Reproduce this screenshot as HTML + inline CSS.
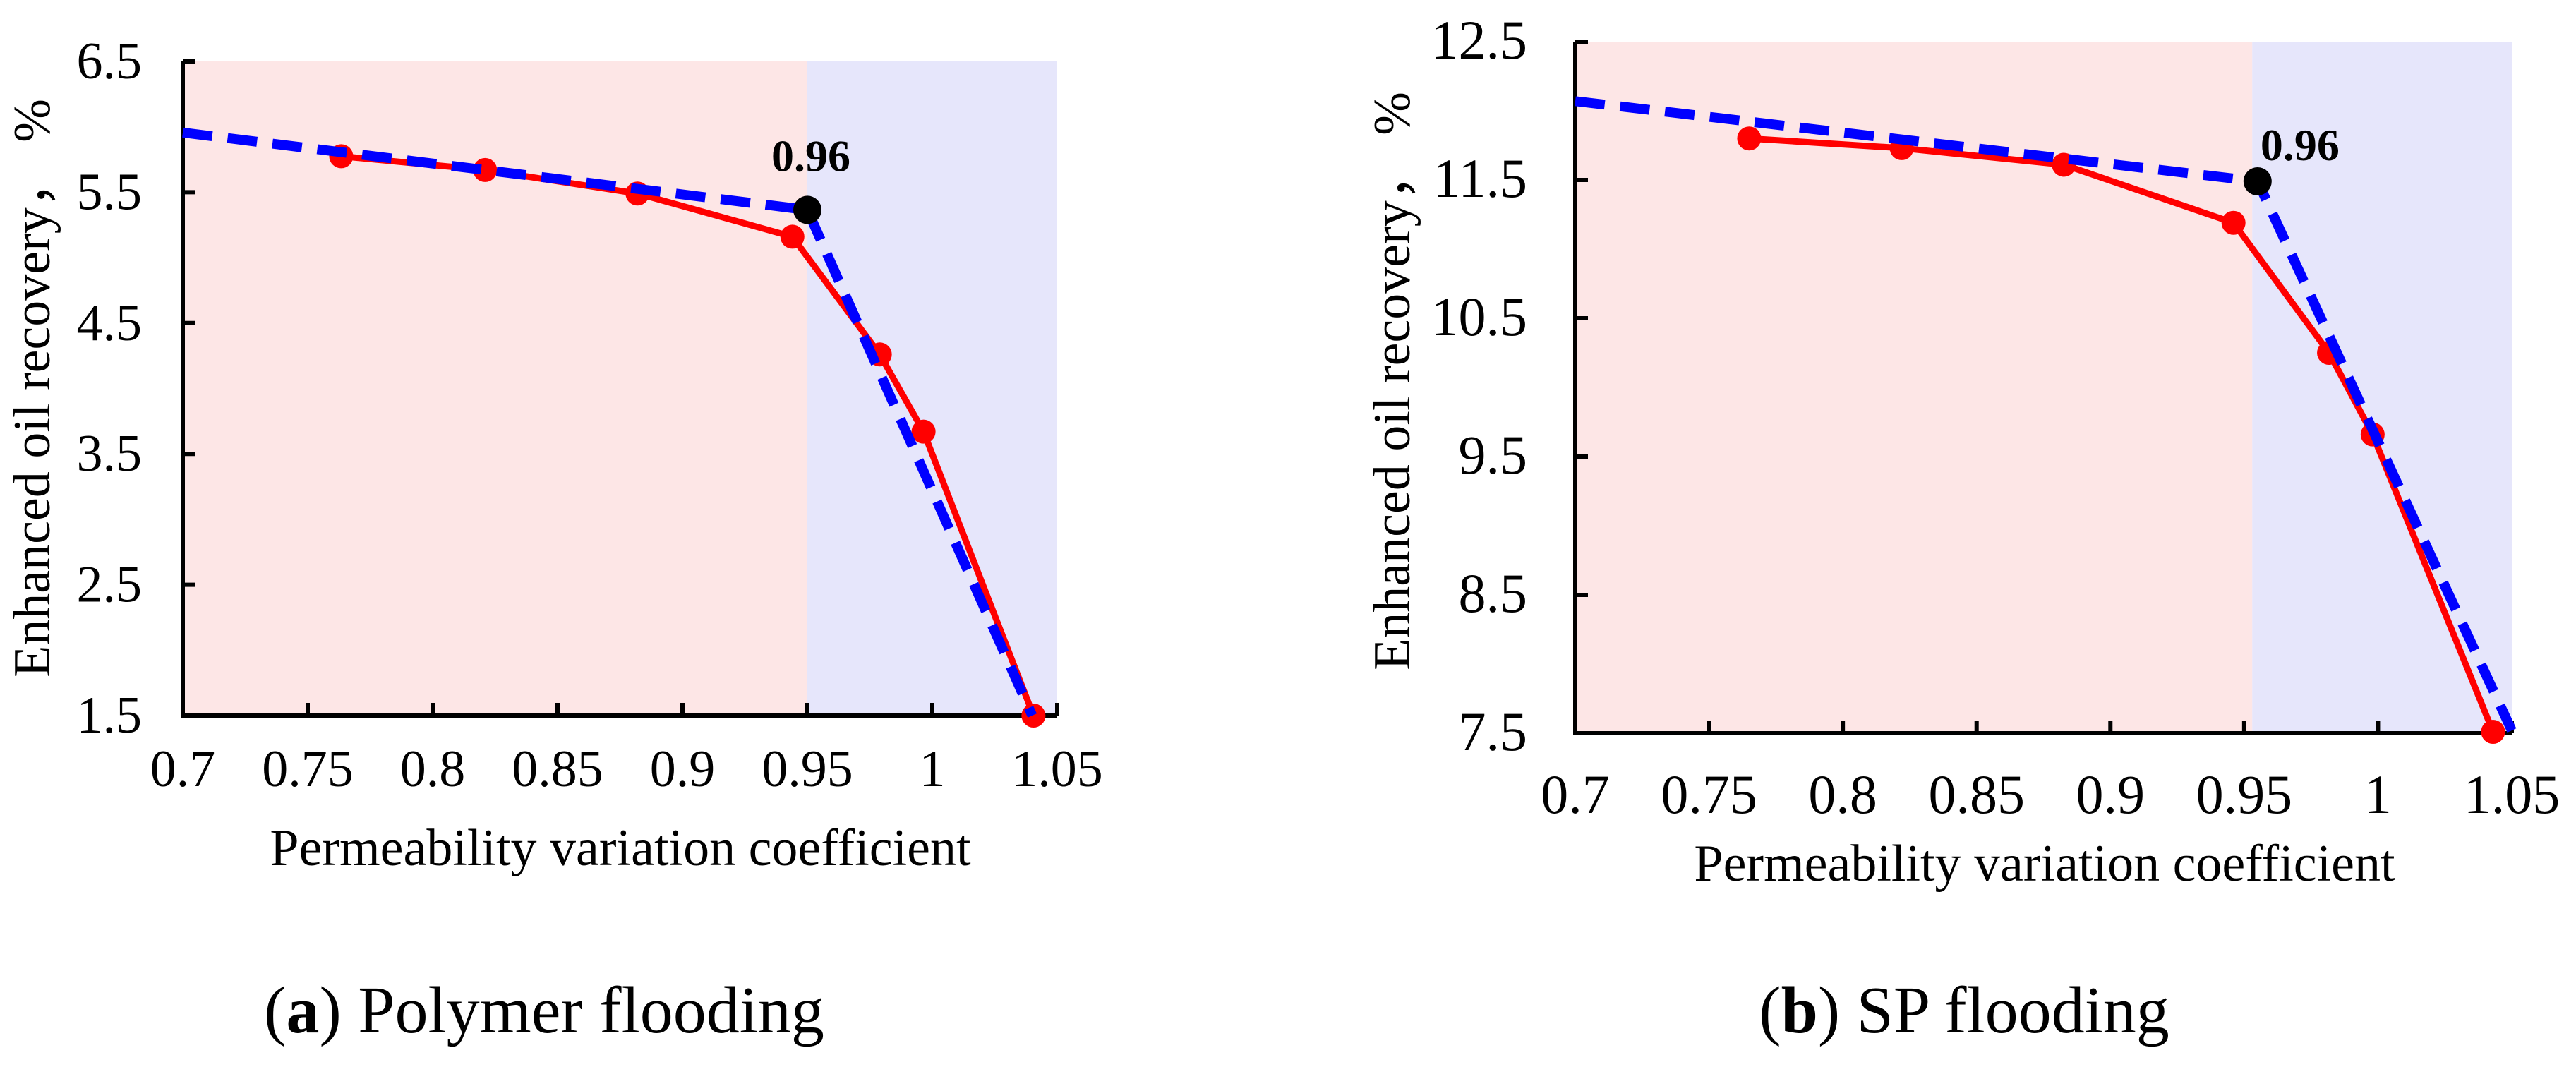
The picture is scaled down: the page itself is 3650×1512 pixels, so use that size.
<!DOCTYPE html>
<html><head><meta charset="utf-8"><style>
html,body{margin:0;padding:0;background:#fff;}
svg{display:block;}
text{font-family:"Liberation Serif",serif;}
</style></head><body>
<svg id="fig" width="3650" height="1512" viewBox="0 0 3650 1512"></svg>
<script>
// Panel (a) Polymer flooding
const xTicks = [0.7,0.75,0.8,0.85,0.9,0.95,1,1.05];
const xTickLabels = ["0.7","0.75","0.8","0.85","0.9","0.95","1","1.05"];
const aYTicks = [1.5,2.5,3.5,4.5,5.5,6.5];
const aX = [0.7634,0.821,0.882,0.944,0.979,0.9965,1.0405];
const aY = [5.775,5.67,5.49,5.16,4.26,3.67,1.5];
const aFitX = [0.7,0.950,1.04];
const aFitY = [5.956,5.365,1.5];
const aBreak = 0.95;
// Panel (b) SP flooding
const bYTicks = [7.5,8.5,9.5,10.5,11.5,12.5];
const bX = [0.765,0.822,0.8826,0.946,0.9817,0.998,1.043];
const bY = [11.80,11.73,11.61,11.19,10.25,9.66,7.51];
const bFitX = [0.7,0.955,1.05];
const bFitY = [12.07,11.49,7.52];
const bBreak = 0.953;
const breakLabel = "0.96";

const NS = "http://www.w3.org/2000/svg";
const svg = document.getElementById('fig');
const FF = '"Liberation Serif", serif';
function el(tag, attrs, parent, text){
  const e = document.createElementNS(NS, tag);
  for (const k in attrs) e.setAttribute(k, attrs[k]);
  if (tag === 'text') e.setAttribute('font-family', FF);
  if (text !== undefined) e.textContent = text;
  (parent||svg).appendChild(e);
  return e;
}

function panel(cfg){
  const g = el('g', {});
  
  
  const sx = v => cfg.x0 + (v - 0.7) / 0.35 * (cfg.x1 - cfg.x0);
  const sy = v => cfg.yb - (v - cfg.ymin) / (cfg.ymax - cfg.ymin) * (cfg.yb - cfg.yt);
  const r1 = el('rect', {x:sx(0.7), y:sy(cfg.ymax), width:sx(cfg.brk)-sx(0.7), height:sy(cfg.ymin)-sy(cfg.ymax), fill:'#fde6e6'}, g);
  
  
  const r2 = el('rect', {x:sx(cfg.brk), y:sy(cfg.ymax), width:sx(1.05)-sx(cfg.brk), height:sy(cfg.ymin)-sy(cfg.ymax), fill:'#e6e6fb'}, g);
  
  
  const ax = el('path', {d:`M${sx(0.7)} ${sy(cfg.ymax)} L${sx(0.7)} ${sy(cfg.ymin)} L${sx(1.05)} ${sy(cfg.ymin)}`, stroke:'#000', 'stroke-width':6, fill:'none'}, g);
  
  
  cfg.yTicks.forEach(v=>{
    const t = el('line', {x1:sx(0.7), x2:sx(0.7)+18, y1:sy(v), y2:sy(v), stroke:'#000','stroke-width':6}, g);
    
    
    const l = el('text', {x:sx(0.7)-cfg.ylGap, y:sy(v)+24, 'text-anchor':'end', 'font-size':cfg.fs, fill:'#000'}, g, String(v.toFixed(1)));
    
    
  });
  xTicks.forEach((v,i)=>{
    const t = el('line', {x1:sx(v), x2:sx(v), y1:sy(cfg.ymin), y2:sy(cfg.ymin)-18, stroke:'#000','stroke-width':6}, g);
    
    
    const l = el('text', {x:sx(v), y:cfg.xlY, 'text-anchor':'middle', 'font-size':cfg.fs, fill:'#000'}, g, xTickLabels[i]);
    
    
  });
  const pts = cfg.xs.map((x,i)=>sx(x)+','+sy(cfg.ys[i])).join(' ');
  const pl = el('polyline', {points:pts, fill:'none', stroke:'#ff0000','stroke-width':9,'stroke-linejoin':'round'}, g);
  
  
  cfg.xs.forEach((x,i)=>{
    const c = el('circle', {cx:sx(x), cy:sy(cfg.ys[i]), r:17, fill:'#ff0000'}, g);
    
    
  });
  const fp = cfg.fx.map((x,i)=>sx(x)+','+sy(cfg.fy[i])).join(' ');
  const fl = el('polyline', {points:fp, fill:'none', stroke:'#0000ff','stroke-width':14,'stroke-dasharray':'42 22'}, g);
  
  
  const bc = el('circle', {cx:sx(cfg.fx[1]), cy:sy(cfg.fy[1]), r:20, fill:'#000'}, g);
  
  
  const bl = el('text', {x:sx(cfg.fx[1])+cfg.lblDx, y:sy(cfg.fy[1])+cfg.lblDy, 'text-anchor':'middle', 'font-size':64, 'font-weight':'bold', fill:'#000'}, g, breakLabel);
  
  
  const xt = el('text', {x:cfg.xtX, y:cfg.xtY, 'text-anchor':'middle', 'font-size':cfg.tfs, fill:'#000'}, g, 'Permeability variation coefficient');
  
  
  const yt = el('text', {x:0, y:0, 'text-anchor':'middle', 'font-size':cfg.tfs, fill:'#000', transform:`translate(${cfg.ytX},${cfg.ytY}) rotate(-90)`}, g, 'Enhanced oil recovery，  %');
  
  
  const cap = el('text', {x:cfg.capX, y:1463, 'text-anchor':'middle', 'font-size':94, fill:'#000'}, g);
  
  
  el('tspan', {}, cap, '(');
  el('tspan', {'font-weight':'bold'}, cap, cfg.letter);
  el('tspan', {}, cap, ') ' + cfg.caption);
}

panel({name:'chart-polymer-flooding', x0:259, x1:1498, yt:87, yb:1014, ymin:1.5, ymax:6.5,
  yTicks:aYTicks, xs:aX, ys:aY, fx:aFitX, fy:aFitY, brk:aBreak, fs:74, tfs:74, ylGap:58, xlY:1114,
  xtX:879, xtY:1226, ytX:70, ytY:550, capX:771, letter:'a', caption:'Polymer flooding', lblDx:5, lblDy:-55});
panel({name:'chart-sp-flooding', x0:2232, x1:3559, yt:59, yb:1039, ymin:7.5, ymax:12.5,
  yTicks:bYTicks, xs:bX, ys:bY, fx:bFitX, fy:bFitY, brk:bBreak, fs:78, tfs:74, ylGap:68, xlY:1152,
  xtX:2897, xtY:1248, ytX:1997, ytY:540, capX:2783, letter:'b', caption:'SP flooding', lblDx:60, lblDy:-30});
</script>
</body></html>
